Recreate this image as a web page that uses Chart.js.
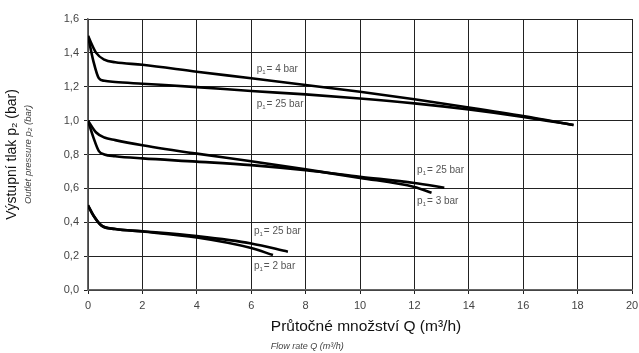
<!DOCTYPE html>
<html>
<head>
<meta charset="utf-8">
<script src="https://cdn.jsdelivr.net/npm/chart.js@4/dist/chart.umd.min.js"></script>
<style>
  html, body { margin: 0; padding: 0; background: #fff; }
  #wrap { width: 639px; height: 353px; }
</style>
</head>
<body>
<div id="wrap"><canvas id="myChart"></canvas></div>
<script>
const FONT = "'Liberation Sans Narrow', 'Liberation Sans', Arial, sans-serif";

// top group, p2 set to 1,5 bar
const Q_4bar = [0, 0.3, 0.6, 1, 2, 4, 6, 8, 10, 12, 14, 16, 17.85];
const P_4bar = [1.5, 1.4, 1.36, 1.345, 1.33, 1.289, 1.25, 1.21, 1.17, 1.126, 1.078, 1.027, 0.974];
const Q_25bar_a = [0, 0.2, 0.4, 0.6, 1, 2, 4, 6, 8, 10, 12, 14, 16, 17.85];
const P_25bar_a = [1.5, 1.35, 1.25, 1.235, 1.228, 1.218, 1.198, 1.175, 1.155, 1.131, 1.102, 1.066, 1.022, 0.974];

// middle group, 1,0 bar
const Q_3bar = [0, 0.3, 0.6, 1, 2, 4, 6, 8, 10, 12, 12.63];
const P_3bar = [1.0, 0.93, 0.9, 0.885, 0.855, 0.805, 0.76, 0.712, 0.662, 0.608, 0.574];
const Q_25bar_b = [0, 0.2, 0.4, 0.6, 1, 2, 4, 6, 8, 10, 12, 13.1];
const P_25bar_b = [1.0, 0.9, 0.82, 0.8, 0.79, 0.777, 0.758, 0.737, 0.707, 0.669, 0.632, 0.604];

// bottom group, 0,5 bar
const Q_2bar = [0, 0.2, 0.5, 1, 2, 4, 6, 6.8];
const P_2bar = [0.5, 0.44, 0.38, 0.36, 0.345, 0.31, 0.248, 0.206];
const Q_25bar_c = [0, 0.2, 0.5, 1, 2, 4, 6, 7.35];
const P_25bar_c = [0.5, 0.44, 0.38, 0.36, 0.347, 0.318, 0.275, 0.226];

// curve labels: [Q, p, rest of text]
const LABELS = [
  [6.2, 1.285, '= 4 bar'],
  [6.2, 1.08, '= 25 bar'],
  [12.1, 0.69, '= 25 bar'],
  [12.1, 0.51, '= 3 bar'],
  [6.1, 0.33, '= 25 bar'],
  [6.1, 0.125, '= 2 bar']
];

const X_TICKS = [0, 2, 4, 6, 8, 10, 12, 14, 16, 18, 20];
const Y_TICKS = [0, 0.2, 0.4, 0.6, 0.8, 1.0, 1.2, 1.4, 1.6];

function pts(xs, ys) {
  return xs.map((x, i) => ({ x: x, y: ys[i] }));
}

function line(xs, ys) {
  return {
    data: pts(xs, ys),
    showLine: true,
    borderColor: '#000',
    borderWidth: 2.6,
    pointRadius: 0,
    cubicInterpolationMode: 'monotone',
    fill: false
  };
}

const labelsPlugin = {
  id: 'curveLabels',
  afterDatasetsDraw(chart) {
    const c = chart.ctx;
    const xs = chart.scales.x, ys = chart.scales.y;
    c.save();
    c.fillStyle = '#555';
    c.textBaseline = 'alphabetic';
    c.textAlign = 'left';
    LABELS.forEach(l => {
      let px = xs.getPixelForValue(l[0]);
      const py = ys.getPixelForValue(l[1]);
      c.font = '10px ' + FONT;
      c.fillText('p', px, py);
      px += c.measureText('p').width;
      c.font = '6px ' + FONT;
      c.fillText('1', px, py + 2);
      px += c.measureText('1').width + 1;
      c.font = '10px ' + FONT;
      c.fillText(l[2], px, py);
    });
    c.restore();
  }
};

const titlesPlugin = {
  id: 'axisTitles',
  afterDraw(chart) {
    const c = chart.ctx;
    const a = chart.chartArea;
    const cy = (a.top + a.bottom) / 2;
    c.save();
    c.textBaseline = 'middle';
    c.fillStyle = '#111';
    c.font = '15.5px ' + FONT;
    const main = 'Průtočné množství Q (m³/h)';
    const w = c.measureText(main).width;
    const left = 366 - w / 2;
    c.textAlign = 'left';
    c.fillText(main, left, 327);
    c.fillStyle = '#444';
    c.font = 'italic 9px ' + FONT;
    c.fillText('Flow rate Q (m³/h)', left, 346);
    c.textAlign = 'center';
    c.translate(12, cy);
    c.rotate(-Math.PI / 2);
    c.fillStyle = '#111';
    c.font = '14px ' + FONT;
    c.fillText('Výstupní tlak p₂ (bar)', 0, 0);
    c.fillStyle = '#444';
    c.font = 'italic 9.5px ' + FONT;
    c.fillText('Outlet pressure p₂ (bar)', 0, 16);
    c.restore();
  }
};

const ctx = document.getElementById('myChart');

window.myChart = new Chart(ctx, {
  type: 'scatter',
  data: {
    datasets: [
      line(Q_4bar, P_4bar),
      line(Q_25bar_a, P_25bar_a),
      line(Q_3bar, P_3bar),
      line(Q_25bar_b, P_25bar_b),
      line(Q_2bar, P_2bar),
      line(Q_25bar_c, P_25bar_c)
    ]
  },
  options: {
    responsive: true,
    maintainAspectRatio: false,
    animation: false,
    layout: { autoPadding: false, padding: { top: 19, right: 7, left: 0, bottom: 0 } },
    plugins: {
      legend: { display: false },
      tooltip: { enabled: false }
    },
    scales: {
      x: {
        type: 'linear',
        min: 0,
        max: 20,
        afterBuildTicks: s => { s.ticks = X_TICKS.map(v => ({ value: v })); },
        afterFit: s => { s.height = 63; s.paddingRight = 0; s.paddingLeft = 0; },
        border: { display: true, color: '#666', width: 1.5 },
        grid: { color: '#222', lineWidth: 1, tickLength: 4 },
        ticks: {
          color: '#444',
          font: { family: FONT, size: 11 },
          padding: 5,
          maxRotation: 0,
          callback: v => String(v)
        }
      },
      y: {
        type: 'linear',
        min: 0,
        max: 1.6,
        afterBuildTicks: s => { s.ticks = Y_TICKS.map(v => ({ value: v })); },
        afterFit: s => { s.width = 88; s.paddingTop = 0; s.paddingBottom = 0; },
        border: { display: true, color: '#666', width: 1.5 },
        grid: { color: '#222', lineWidth: 1, tickLength: 4 },
        ticks: {
          color: '#444',
          font: { family: FONT, size: 11 },
          padding: 5,
          callback: v => v.toFixed(1).replace('.', ',')
        }
      }
    }
  },
  plugins: [labelsPlugin, titlesPlugin]
});
</script>
</body>
</html>
